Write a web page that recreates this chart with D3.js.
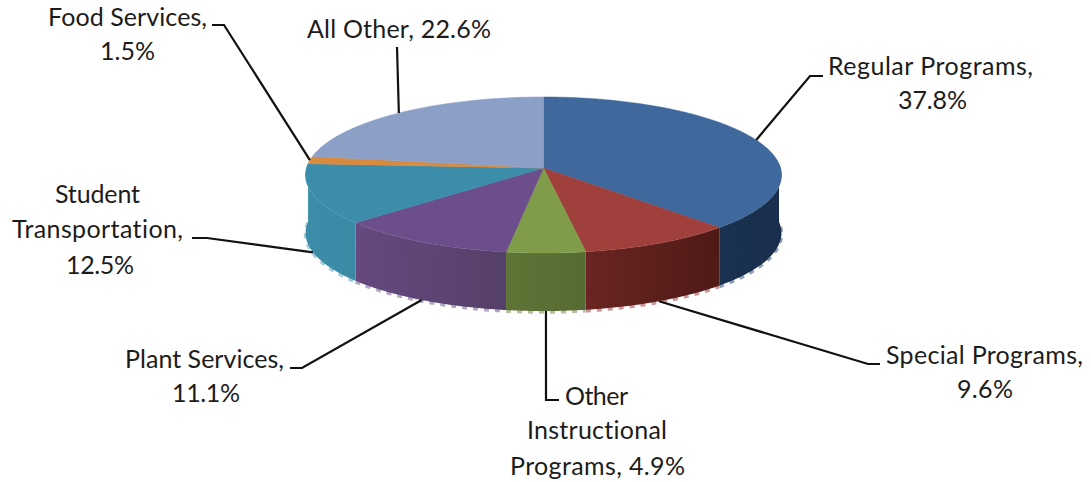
<!DOCTYPE html>
<html>
<head>
<meta charset="utf-8">
<script src="https://cdnjs.cloudflare.com/ajax/libs/d3/7.8.5/d3.min.js"></script>
<style>
  html, body { margin: 0; padding: 0; background: #fff; }
  svg { display: block; }
  text { font-family: Lato, sans-serif; font-size: 25px; fill: #1c1c1c; font-variant-ligatures: none; }
</style>
</head>
<body>
<svg id="chart" width="1091" height="482"></svg>
<script>
// Budget shares, clockwise from twelve o'clock
const categories = ["Regular Programs", "Special Programs", "Other Instructional Programs",
                    "Plant Services", "Student Transportation", "Food Services", "All Other"];
const shares = [37.8, 9.6, 4.9, 11.1, 12.5, 1.5, 22.6];

const topColors  = ["#3f689c", "#a0403c", "#7f9c4b", "#6b4e8a", "#3c8daa", "#d98a3c", "#8b9fc7"];
const wallLeft   = ["#1a3150", "#6a2522", "#5e7437", "#65497f", "#3c8da9", "#9c5f26", "#5f6f8f"];
const wallRight  = ["#1a2f4e", "#4f1a16", "#566b31", "#554069", "#3a8aa4", "#9c5f26", "#5f6f8f"];
const speckle    = ["#8fa0b8", "#c69a98", "#b5bfa2", "#b3a8c4", "#a5cdd9", "#e6c49c", "#c0c9dc"];

// Each label line: text, left edge, right edge, baseline
const labelLines = [
  [["Regular Programs,", 828, 1033, 75], ["37.8%", 898, 967, 109]],
  [["Special Programs,", 886, 1083, 364], ["9.6%", 957, 1013, 398]],
  [["Other", 565, 628, 405], ["Instructional", 527, 667, 439], ["Programs, 4.9%", 510, 685, 475]],
  [["Plant Services,", 125, 284, 368], ["11.1%", 172, 240, 402]],
  [["Student", 55, 140, 203], ["Transportation,", 12, 183, 238], ["12.5%", 66, 134, 274]],
  [["Food Services,", 48, 207, 26], ["1.5%", 100, 155, 60]],
  [["All Other, 22.6%", 307, 491, 38]]
];
// Leader-line bends between the label and the pie edge
const leaderBends = [
  [[823, 76], [810, 76]],
  [[880, 364], [868, 364]],
  [[559, 400], [546, 400]],
  [[290, 368], [302, 368]],
  [[192, 238], [207, 238]],
  [[212, 25], [224, 25]],
  [[397, 47]]
];

const cx = 543.5, cy = 168;      // apex of the pie on the page
const rx = 237, ry = 77.4;       // plan radii before foreshortening
const tilt = 0.0897;             // perspective strength: near edge grows, far edge shrinks
const depth = 58;                // wall height

// Project an angle on the disc rim to page coordinates
function rim(a, drop = 0) {
  const X = Math.sin(a), Y = -Math.cos(a), w = 1 - tilt * Y;
  return [cx + rx * X / w, cy + ry * Y / w + drop];
}

const svg = d3.select("#chart");
const defs = svg.append("defs");
const slices = d3.pie().sort(null).value(d => d)(shares);
const line = d3.line();
const rimAngles = s => {
  const n = Math.max(2, Math.ceil((s.endAngle - s.startAngle) / 0.01));
  return d3.range(n + 1).map(i => s.startAngle + (s.endAngle - s.startAngle) * i / n);
};

slices.forEach((s, i) => {
  const g = defs.append("linearGradient").attr("id", "wall" + i);
  g.append("stop").attr("offset", 0).attr("stop-color", wallLeft[i]);
  g.append("stop").attr("offset", 1).attr("stop-color", wallRight[i]);
});

// Side walls of the slices, only the near half can show
const walls = svg.append("g");
slices.forEach((s, i) => {
  const as = rimAngles(s).filter(a => -Math.cos(a) > -0.06);
  if (as.length < 2) return;
  const top = as.map(a => rim(a));
  const bottom = as.map(a => rim(a, depth)).reverse();
  // Pale broken fringe along the lower edge of the wall
  walls.append("path")
    .attr("d", line(as.map(a => rim(a, depth + 1)).reverse()))
    .attr("fill", "none")
    .attr("stroke", speckle[i])
    .attr("stroke-width", 3.5)
    .attr("stroke-dasharray", "5 6");
  walls.append("path")
    .attr("d", line(top.concat(bottom)) + "Z")
    .attr("fill", `url(#wall${i})`);
});

// Top face
const faces = svg.append("g");
slices.forEach((s, i) => {
  faces.append("path")
    .attr("d", line([[cx, cy]].concat(rimAngles(s).map(a => rim(a)))) + "Z")
    .attr("fill", topColors[i])
    .attr("stroke", topColors[i])
    .attr("stroke-width", 0.5);
});

// Leaders start mid-slice: on the lower rim for near slices, the upper rim for far ones
const leaders = svg.append("g");
slices.forEach((s, i) => {
  const mid = (s.startAngle + s.endAngle) / 2;
  const anchor = -Math.cos(mid) > 0 ? rim(mid, depth) : rim(mid);
  leaders.append("path")
    .attr("d", line(leaderBends[i].concat([anchor])))
    .attr("fill", "none")
    .attr("stroke", "#111")
    .attr("stroke-width", 2.2);
});

// Labels, each line fitted between its edges
const labels = svg.append("g");
labelLines.forEach(rows => rows.forEach(([t, left, right, y]) => {
  labels.append("text")
    .attr("x", left)
    .attr("y", y)
    .attr("textLength", right - left)
    .attr("lengthAdjust", "spacing")
    .text(t);
}));
</script>
</body>
</html>
